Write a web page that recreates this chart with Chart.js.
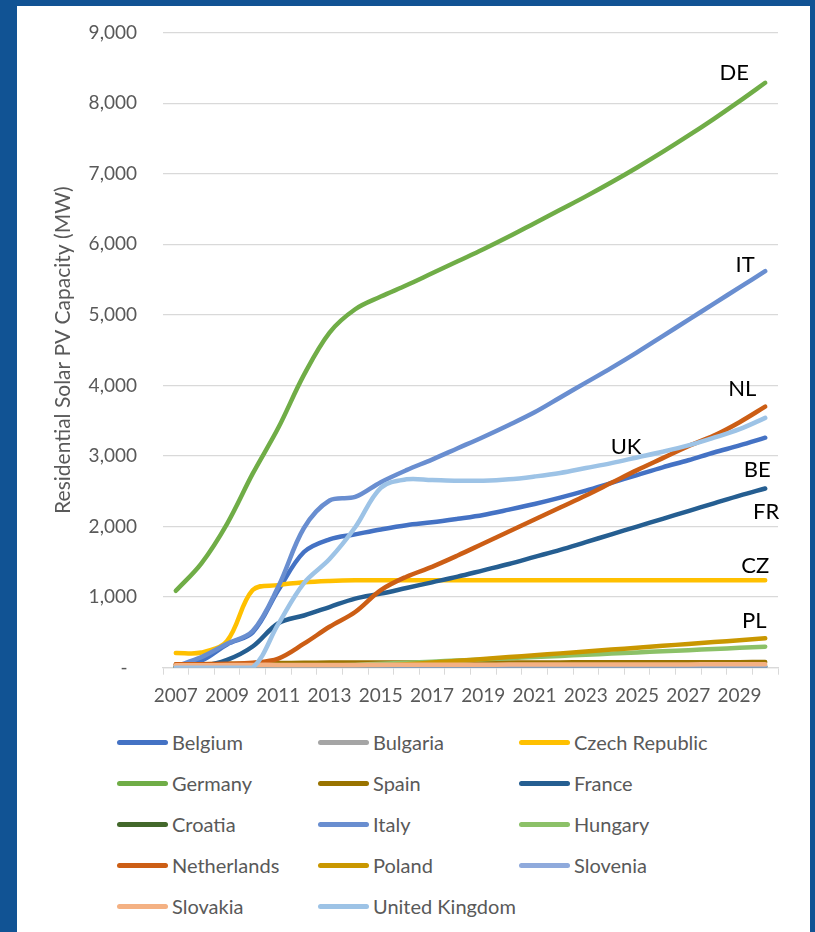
<!DOCTYPE html>
<html>
<head>
<meta charset="utf-8">
<script src="https://cdn.jsdelivr.net/npm/chart.js@4.4.1/dist/chart.umd.min.js"></script>
<style>
  html, body { margin: 0; padding: 0; }
  body { width: 815px; height: 932px; background: #115394; position: relative; overflow: hidden; }
  #panel { position: absolute; left: 17px; top: 6px; width: 793px; height: 926px; background: #ffffff; }
  #chartWrap { position: absolute; left: 0; top: 0; width: 793px; height: 700px; }
  #legend { position: absolute; left: 100px; top: 715.5px; display: grid;
            grid-template-columns: 201px 201px 201px; grid-auto-rows: 41px; }
  .item { display: flex; align-items: center; font-family: Lato, sans-serif; font-size: 20px;
          color: #595959; line-height: 1; white-space: nowrap; }
  .sw { width: 51px; height: 5px; border-radius: 3px; margin-right: 4px; flex: none; }
</style>
</head>
<body>
<div id="panel">
  <div id="chartWrap"><canvas id="c" width="793" height="700"></canvas></div>
  <div id="legend"></div>
</div>
<script>
// ---- data ----
const years = ['2007','2008','2009','2010','2011','2012','2013','2014','2015','2016','2017','2018',
               '2019','2020','2021','2022','2023','2024','2025','2026','2027','2028','2029','2030'];
const xTickLabels = ['2007','','2009','','2011','','2013','','2015','','2017','',
                     '2019','','2021','','2023','','2025','','2027','','2029',''];
const yTickLabels = ['-','1,000','2,000','3,000','4,000','5,000','6,000','7,000','8,000','9,000'];

const belgium     = [20, 100, 330, 500, 1100, 1640, 1820, 1890, 1960, 2020, 2060, 2110, 2165, 2240, 2320, 2410, 2510, 2620, 2730, 2840, 2940, 3050, 3150, 3260];
const bulgaria    = [5, 5, 5, 5, 6, 6, 7, 7, 7, 7, 8, 8, 8, 8, 8, 8, 8, 8, 8, 8, 8, 8, 8, 8];
const czech       = [210, 215, 380, 1100, 1170, 1210, 1230, 1240, 1240, 1240, 1240, 1240, 1240, 1240, 1240, 1240, 1240, 1240, 1240, 1240, 1240, 1240, 1240, 1240];
const germany     = [1090, 1480, 2040, 2750, 3400, 4150, 4750, 5080, 5260, 5420, 5590, 5760, 5930, 6110, 6300, 6490, 6680, 6880, 7090, 7310, 7540, 7780, 8030, 8290];
const spain       = [45, 50, 55, 60, 65, 70, 72, 72, 72, 72, 73, 73, 74, 74, 75, 75, 76, 76, 77, 77, 78, 78, 79, 80];
const france      = [0, 20, 110, 300, 630, 740, 860, 980, 1050, 1130, 1210, 1290, 1380, 1470, 1570, 1670, 1780, 1890, 2000, 2110, 2220, 2330, 2440, 2540];
const croatia     = [3, 3, 4, 5, 8, 12, 15, 18, 20, 20, 20, 20, 20, 20, 20, 20, 20, 20, 20, 20, 20, 20, 20, 20];
const italy       = [20, 150, 340, 520, 1150, 1980, 2370, 2420, 2630, 2800, 2950, 3110, 3270, 3440, 3620, 3830, 4040, 4250, 4470, 4700, 4930, 5160, 5390, 5620];
const hungary     = [10, 10, 12, 15, 18, 22, 28, 40, 55, 70, 86, 102, 118, 135, 151, 167, 184, 200, 216, 233, 249, 265, 282, 298];
const netherlands = [50, 50, 55, 70, 130, 340, 580, 790, 1100, 1290, 1430, 1590, 1760, 1930, 2100, 2270, 2440, 2620, 2800, 2970, 3140, 3290, 3480, 3700];
const poland      = [10, 10, 10, 10, 10, 10, 12, 15, 30, 50, 72, 97, 123, 150, 177, 203, 230, 257, 283, 310, 337, 363, 390, 417];
const slovenia    = [4, 4, 5, 5, 6, 6, 6, 6, 6, 6, 6, 6, 6, 6, 6, 6, 6, 6, 6, 6, 6, 6, 6, 6];
const slovakia    = [35, 35, 38, 40, 40, 40, 40, 40, 42, 42, 42, 43, 43, 44, 44, 45, 45, 46, 46, 47, 47, 48, 48, 48];
const uk          = [0, 0, 0, 0, 620, 1200, 1540, 1990, 2550, 2670, 2660, 2650, 2650, 2670, 2710, 2760, 2830, 2900, 2980, 3060, 3150, 3260, 3380, 3540];

const seriesNames  = ['Belgium','Bulgaria','Czech Republic','Germany','Spain','France','Croatia','Italy',
                      'Hungary','Netherlands','Poland','Slovenia','Slovakia','United Kingdom'];
const seriesValues = [belgium, bulgaria, czech, germany, spain, france, croatia, italy,
                      hungary, netherlands, poland, slovenia, slovakia, uk];
const seriesColors = ['#4472C4','#A5A5A5','#FFC000','#70AD47','#997300','#255E91','#43682B','#698ED0',
                      '#8CC168','#CC5E15','#C99700','#8FAADC','#F4B183','#9DC3E6'];

// end-of-line country codes: text, series, anchor year
const codeTexts  = ['DE','IT','NL','UK','BE','FR','CZ','PL'];
const codeSeries = ['Germany','Italy','Netherlands','United Kingdom','Belgium','France','Czech Republic','Poland'];
const codeYears  = ['2030','2030','2030','2025','2030','2030','2030','2030'];
// pixel offsets (label centre relative to anchor point)
const codeOffsets = [[-31,-11],[-20,-7],[-23,-19],[-11,-11],[-8,31],[1,23],[-10,-15],[-11,-18]];

const N = seriesNames.length;
const datasets = seriesNames.map((name, i) => ({
  label: name,
  data: seriesValues[i],
  borderColor: seriesColors[i],
  backgroundColor: seriesColors[i],
  order: N - i
}));

const codePlugin = {
  id: 'codes',
  afterDatasetsDraw(chart) {
    const {ctx, scales} = chart;
    ctx.save();
    ctx.font = '22px Lato';
    ctx.fillStyle = '#000000';
    ctx.textAlign = 'center';
    ctx.textBaseline = 'alphabetic';
    codeTexts.forEach((t, k) => {
      const si = seriesNames.indexOf(codeSeries[k]);
      const yi = years.indexOf(codeYears[k]);
      const x = scales.x.getPixelForValue(yi);
      const y = scales.y.getPixelForValue(seriesValues[si][yi]);
      ctx.fillText(t, x + codeOffsets[k][0], y + codeOffsets[k][1] + 8);
    });
    ctx.restore();
  }
};

const tickFont = { family: 'Lato', size: 19 };

new Chart(document.getElementById('c'), {
  type: 'line',
  data: { labels: years, datasets },
  plugins: [codePlugin],
  options: {
    responsive: false,
    animation: false,
    events: [],
    layout: { padding: { left: 0, right: 32, top: 26.7, bottom: 0 } },
    plugins: { legend: { display: false }, tooltip: { enabled: false } },
    elements: {
      point: { radius: 0, hoverRadius: 0 },
      line: { borderWidth: 4.5, tension: 0.35, borderCapStyle: 'round', borderJoinStyle: 'round', fill: false }
    },
    scales: {
      x: {
        type: 'category',
        offset: true,
        grid: { offset: true, drawOnChartArea: false, drawTicks: true, tickLength: 7, color: '#D9D9D9', lineWidth: 1 },
        border: { display: true, color: '#D9D9D9', width: 1.3 },
        ticks: { autoSkip: false, maxRotation: 0, minRotation: 0, padding: 10, color: '#595959', font: tickFont,
                 callback: (v, i) => xTickLabels[i] },
        afterFit: s => { s.height = 38.3; }
      },
      y: {
        min: 0, max: 9000,
        ticks: { stepSize: 1000, padding: 26, color: '#595959', font: tickFont,
                 callback: (v, i) => yTickLabels[i] + (i === 0 ? '\u2002' : '') },
        grid: { color: '#D9D9D9', lineWidth: 1.3, drawTicks: false },
        border: { display: false },
        title: { display: true, text: 'Residential Solar PV Capacity (MW)', color: '#595959',
                 font: { family: 'Lato', size: 21 }, padding: { top: 33.4, bottom: 0 } },
        afterFit: s => { s.width = 146; s.paddingTop = 11; s.paddingBottom = 11; }
      }
    }
  }
});

// legend (3 columns, dataset order)
const lg = document.getElementById('legend');
seriesNames.forEach((name, i) => {
  const it = document.createElement('div');
  it.className = 'item';
  const sw = document.createElement('span');
  sw.className = 'sw';
  sw.style.background = seriesColors[i];
  const tx = document.createElement('span');
  tx.textContent = name;
  it.appendChild(sw);
  it.appendChild(tx);
  lg.appendChild(it);
});
</script>
</body>
</html>
